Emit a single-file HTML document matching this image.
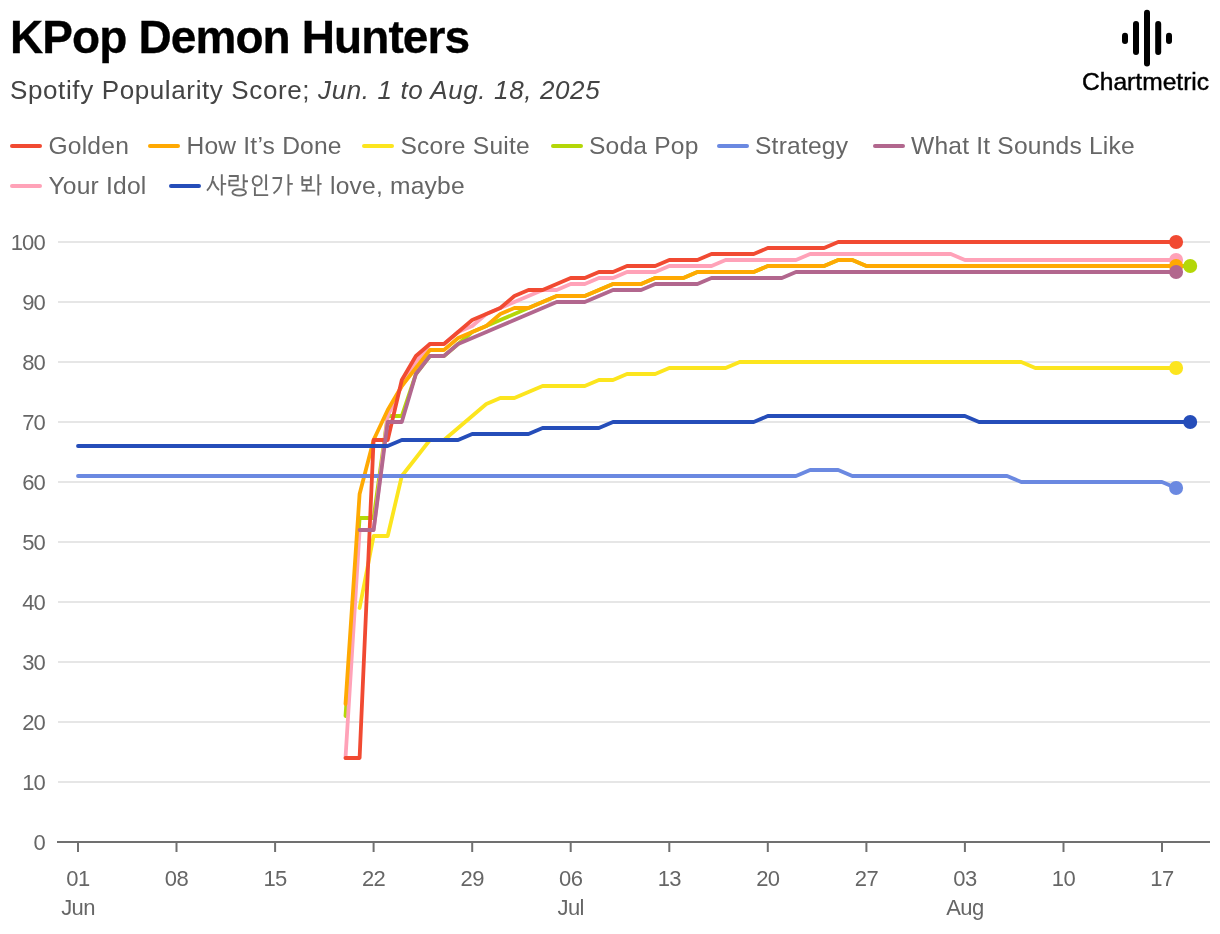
<!DOCTYPE html>
<html><head><meta charset="utf-8"><title>KPop Demon Hunters</title>
<style>
html,body{margin:0;padding:0;background:#fff;}
body{width:1220px;height:934px;position:relative;overflow:hidden;font-family:"Liberation Sans",sans-serif;}
.wrap{position:absolute;left:0;top:0;width:1220px;height:934px;will-change:transform;}
.title{position:absolute;left:10px;top:13.8px;font-size:46px;line-height:46px;font-weight:700;color:#000;letter-spacing:-0.9px;-webkit-text-stroke:0.3px #000;white-space:nowrap;}
.sub{position:absolute;left:10px;top:77.0px;font-size:26px;line-height:26px;color:#444;letter-spacing:0.62px;white-space:nowrap;}
.sub i{font-style:italic;}
.sw{position:absolute;width:32px;height:4px;border-radius:2px;}
.lt{position:absolute;font-size:24.6px;line-height:24.6px;color:#666;letter-spacing:0.2px;white-space:nowrap;}
.chart{position:absolute;left:0;top:0;}
.yl{font-family:"Liberation Sans",sans-serif;font-size:22px;fill:#666;text-anchor:end;letter-spacing:-0.8px;}
.xl{font-family:"Liberation Sans",sans-serif;font-size:22px;fill:#666;text-anchor:middle;letter-spacing:-0.6px;}
.ko{position:absolute;left:200px;top:170px;}
.logo{position:absolute;left:1120px;top:8px;}
.logot{position:absolute;left:1082px;top:70.0px;font-size:24.6px;line-height:24.6px;color:#000;-webkit-text-stroke:0.45px #000;white-space:nowrap;}
</style></head>
<body>
<div class="wrap">
<svg class="chart" width="1220" height="934" viewBox="0 0 1220 934">
<line x1="58" y1="782" x2="1210" y2="782" stroke="#e6e6e6" stroke-width="2"/>
<line x1="58" y1="722" x2="1210" y2="722" stroke="#e6e6e6" stroke-width="2"/>
<line x1="58" y1="662" x2="1210" y2="662" stroke="#e6e6e6" stroke-width="2"/>
<line x1="58" y1="602" x2="1210" y2="602" stroke="#e6e6e6" stroke-width="2"/>
<line x1="58" y1="542" x2="1210" y2="542" stroke="#e6e6e6" stroke-width="2"/>
<line x1="58" y1="482" x2="1210" y2="482" stroke="#e6e6e6" stroke-width="2"/>
<line x1="58" y1="422" x2="1210" y2="422" stroke="#e6e6e6" stroke-width="2"/>
<line x1="58" y1="362" x2="1210" y2="362" stroke="#e6e6e6" stroke-width="2"/>
<line x1="58" y1="302" x2="1210" y2="302" stroke="#e6e6e6" stroke-width="2"/>
<line x1="58" y1="242" x2="1210" y2="242" stroke="#e6e6e6" stroke-width="2"/>
<text x="45" y="849.6" class="yl">0</text>
<text x="45" y="789.6" class="yl">10</text>
<text x="45" y="729.6" class="yl">20</text>
<text x="45" y="669.6" class="yl">30</text>
<text x="45" y="609.6" class="yl">40</text>
<text x="45" y="549.6" class="yl">50</text>
<text x="45" y="489.6" class="yl">60</text>
<text x="45" y="429.6" class="yl">70</text>
<text x="45" y="369.6" class="yl">80</text>
<text x="45" y="309.6" class="yl">90</text>
<text x="45" y="249.6" class="yl">100</text>
<line x1="57" y1="842" x2="1210" y2="842" stroke="#707070" stroke-width="2"/>
<line x1="78.0" y1="842" x2="78.0" y2="852" stroke="#707070" stroke-width="2"/>
<text x="78.0" y="885.5" class="xl">01</text>
<line x1="176.5" y1="842" x2="176.5" y2="852" stroke="#707070" stroke-width="2"/>
<text x="176.5" y="885.5" class="xl">08</text>
<line x1="275.1" y1="842" x2="275.1" y2="852" stroke="#707070" stroke-width="2"/>
<text x="275.1" y="885.5" class="xl">15</text>
<line x1="373.6" y1="842" x2="373.6" y2="852" stroke="#707070" stroke-width="2"/>
<text x="373.6" y="885.5" class="xl">22</text>
<line x1="472.2" y1="842" x2="472.2" y2="852" stroke="#707070" stroke-width="2"/>
<text x="472.2" y="885.5" class="xl">29</text>
<line x1="570.7" y1="842" x2="570.7" y2="852" stroke="#707070" stroke-width="2"/>
<text x="570.7" y="885.5" class="xl">06</text>
<line x1="669.3" y1="842" x2="669.3" y2="852" stroke="#707070" stroke-width="2"/>
<text x="669.3" y="885.5" class="xl">13</text>
<line x1="767.8" y1="842" x2="767.8" y2="852" stroke="#707070" stroke-width="2"/>
<text x="767.8" y="885.5" class="xl">20</text>
<line x1="866.4" y1="842" x2="866.4" y2="852" stroke="#707070" stroke-width="2"/>
<text x="866.4" y="885.5" class="xl">27</text>
<line x1="964.9" y1="842" x2="964.9" y2="852" stroke="#707070" stroke-width="2"/>
<text x="964.9" y="885.5" class="xl">03</text>
<line x1="1063.5" y1="842" x2="1063.5" y2="852" stroke="#707070" stroke-width="2"/>
<text x="1063.5" y="885.5" class="xl">10</text>
<line x1="1162.0" y1="842" x2="1162.0" y2="852" stroke="#707070" stroke-width="2"/>
<text x="1162.0" y="885.5" class="xl">17</text>
<text x="78.0" y="915" class="xl">Jun</text>
<text x="570.7" y="915" class="xl">Jul</text>
<text x="964.9" y="915" class="xl">Aug</text>
<path d="M359.6,608.0 L373.6,536.0 L387.7,536.0 L401.8,476.0 L415.9,458.0 L429.9,440.0 L444.0,440.0 L458.1,428.0 L472.2,416.0 L486.3,404.0 L500.3,398.0 L514.4,398.0 L528.5,392.0 L542.6,386.0 L584.8,386.0 L598.9,380.0 L613.0,380.0 L627.0,374.0 L655.2,374.0 L669.3,368.0 L725.6,368.0 L739.7,362.0 L1021.2,362.0 L1035.3,368.0 L1176.1,368.0" fill="none" stroke="#fce51e" stroke-width="3.8" stroke-linejoin="round" stroke-linecap="round"/>
<path d="M345.5,716.0 L359.6,518.0 L373.6,518.0 L387.7,416.0 L401.8,416.0 L415.9,374.0 L429.9,356.0 L444.0,356.0 L458.1,344.0 L472.2,332.0 L486.3,326.0 L500.3,320.0 L514.4,314.0 L528.5,308.0 L542.6,302.0 L556.7,296.0 L584.8,296.0 L598.9,290.0 L613.0,284.0 L641.1,284.0 L655.2,278.0 L683.4,278.0 L697.4,272.0 L753.7,272.0 L767.8,266.0 L824.1,266.0 L838.2,260.0 L852.3,260.0 L866.4,266.0 L1190.2,266.0" fill="none" stroke="#b4d708" stroke-width="3.8" stroke-linejoin="round" stroke-linecap="round"/>
<path d="M345.5,758.0 L359.6,530.0 L373.6,530.0 L387.7,416.0 L401.8,386.0 L415.9,362.0 L429.9,344.0 L444.0,344.0 L458.1,332.0 L472.2,326.0 L486.3,314.0 L500.3,308.0 L514.4,302.0 L528.5,296.0 L542.6,290.0 L556.7,290.0 L570.7,284.0 L584.8,284.0 L598.9,278.0 L613.0,278.0 L627.0,272.0 L655.2,272.0 L669.3,266.0 L711.5,266.0 L725.6,260.0 L796.0,260.0 L810.1,254.0 L950.8,254.0 L964.9,260.0 L1176.1,260.0" fill="none" stroke="#ffa2b8" stroke-width="3.8" stroke-linejoin="round" stroke-linecap="round"/>
<path d="M345.5,704.0 L359.6,494.0 L373.6,440.0 L387.7,410.0 L401.8,386.0 L415.9,368.0 L429.9,350.0 L444.0,350.0 L458.1,338.0 L472.2,332.0 L486.3,326.0 L500.3,314.0 L514.4,308.0 L528.5,308.0 L542.6,302.0 L556.7,296.0 L584.8,296.0 L598.9,290.0 L613.0,284.0 L641.1,284.0 L655.2,278.0 L683.4,278.0 L697.4,272.0 L753.7,272.0 L767.8,266.0 L824.1,266.0 L838.2,260.0 L852.3,260.0 L866.4,266.0 L1176.1,266.0" fill="none" stroke="#ffa902" stroke-width="3.8" stroke-linejoin="round" stroke-linecap="round"/>
<path d="M78.0,476.0 L796.0,476.0 L810.1,470.0 L838.2,470.0 L852.3,476.0 L1007.1,476.0 L1021.2,482.0 L1162.0,482.0 L1176.1,488.0" fill="none" stroke="#6b89e1" stroke-width="3.8" stroke-linejoin="round" stroke-linecap="round"/>
<path d="M345.5,758.0 L359.6,758.0 L373.6,440.0 L387.7,440.0 L401.8,380.0 L415.9,356.0 L429.9,344.0 L444.0,344.0 L458.1,332.0 L472.2,320.0 L486.3,314.0 L500.3,308.0 L514.4,296.0 L528.5,290.0 L542.6,290.0 L556.7,284.0 L570.7,278.0 L584.8,278.0 L598.9,272.0 L613.0,272.0 L627.0,266.0 L655.2,266.0 L669.3,260.0 L697.4,260.0 L711.5,254.0 L753.7,254.0 L767.8,248.0 L824.1,248.0 L838.2,242.0 L1176.1,242.0" fill="none" stroke="#f14a32" stroke-width="3.8" stroke-linejoin="round" stroke-linecap="round"/>
<path d="M359.6,530.0 L373.6,530.0 L387.7,422.0 L401.8,422.0 L415.9,374.0 L429.9,356.0 L444.0,356.0 L458.1,344.0 L472.2,338.0 L486.3,332.0 L500.3,326.0 L514.4,320.0 L528.5,314.0 L542.6,308.0 L556.7,302.0 L584.8,302.0 L598.9,296.0 L613.0,290.0 L641.1,290.0 L655.2,284.0 L697.4,284.0 L711.5,278.0 L781.9,278.0 L796.0,272.0 L1176.1,272.0" fill="none" stroke="#b2678e" stroke-width="3.8" stroke-linejoin="round" stroke-linecap="round"/>
<path d="M78.0,446.0 L387.7,446.0 L401.8,440.0 L458.1,440.0 L472.2,434.0 L528.5,434.0 L542.6,428.0 L598.9,428.0 L613.0,422.0 L753.7,422.0 L767.8,416.0 L964.9,416.0 L979.0,422.0 L1190.2,422.0" fill="none" stroke="#254db9" stroke-width="3.8" stroke-linejoin="round" stroke-linecap="round"/>
<circle cx="1176.1" cy="368.0" r="7" fill="#fce51e"/>
<circle cx="1190.2" cy="266.0" r="7" fill="#b4d708"/>
<circle cx="1176.1" cy="260.0" r="7" fill="#ffa2b8"/>
<circle cx="1176.1" cy="266.0" r="7" fill="#ffa902"/>
<circle cx="1176.1" cy="488.0" r="7" fill="#6b89e1"/>
<circle cx="1176.1" cy="242.0" r="7" fill="#f14a32"/>
<circle cx="1176.1" cy="272.0" r="7" fill="#b2678e"/>
<circle cx="1190.2" cy="422.0" r="7" fill="#254db9"/>
</svg>
<div class="title">KPop Demon Hunters</div>
<div class="sub">Spotify Popularity Score; <i>Jun. 1 to Aug. 18, 2025</i></div>
<div class="sw" style="left:10px;top:143.9px;background:#f14a32"></div>
<div class="lt" style="left:48.5px;top:134.1px">Golden</div>
<div class="sw" style="left:148px;top:143.9px;background:#ffa902"></div>
<div class="lt" style="left:186.5px;top:134.1px">How It’s Done</div>
<div class="sw" style="left:362px;top:143.9px;background:#fce51e"></div>
<div class="lt" style="left:400.5px;top:134.1px">Score Suite</div>
<div class="sw" style="left:550.5px;top:143.9px;background:#b4d708"></div>
<div class="lt" style="left:589.0px;top:134.1px">Soda Pop</div>
<div class="sw" style="left:716.5px;top:143.9px;background:#6b89e1"></div>
<div class="lt" style="left:755.0px;top:134.1px">Strategy</div>
<div class="sw" style="left:872.5px;top:143.9px;background:#b2678e"></div>
<div class="lt" style="left:911.0px;top:134.1px">What It Sounds Like</div>
<div class="sw" style="left:10px;top:183.9px;background:#ffa2b8"></div>
<div class="lt" style="left:48.5px;top:174.1px">Your Idol</div>
<div class="sw" style="left:168.5px;top:183.9px;background:#254db9"></div>
<svg class="ko" width="130" height="34" viewBox="200 170 130 34">
<g fill="none" stroke="#6a6a6a" stroke-width="1.9" stroke-linecap="butt" stroke-linejoin="miter">
<path d="M213.2,176 C212.8,182 210.6,187 207,190.6 M213.2,181 C214.5,185 216.5,188 219,190"/>
<path d="M221.8,174.3 V195.6 M221.8,183.9 H226.2"/>
<path d="M228.9,176 H237.8 V180.6 H229.3 V185.4 H238.6"/>
<path d="M243.7,174.3 V188.6 M243.7,181.2 H248"/>
<ellipse cx="239.2" cy="192.4" rx="6.8" ry="3.2"/>
<ellipse cx="257.2" cy="180.8" rx="4.5" ry="4.7"/>
<path d="M266.1,174.3 V190.2"/>
<path d="M254.9,187.3 V195.1 H268.2"/>
<path d="M272.5,178 H281.2 C281,185 278,190.5 273.5,193.5"/>
<path d="M288.4,174.3 V195.6 M288.4,183.9 H292.8"/>
<path d="M302.3,175.9 V184.9 H310.8 V175.9 M302.3,180.2 H310.8"/>
<path d="M306.6,184.9 V190.2 M301.6,190.6 H315.3"/>
<path d="M318.3,174.3 V195.6 M318.3,183.9 H321.6"/>
</g></svg>
<div class="lt" style="left:330px;top:174.1px">love, maybe</div>
<svg class="logo" width="56" height="62" viewBox="1120 8 56 62">
<g stroke="#000" stroke-width="6" stroke-linecap="round">
<line x1="1125" y1="35.8" x2="1125" y2="40.9"/>
<line x1="1136" y1="24" x2="1136" y2="52.1"/>
<line x1="1147" y1="12.8" x2="1147" y2="63.6"/>
<line x1="1158.2" y1="24" x2="1158.2" y2="52.1"/>
<line x1="1169" y1="35.8" x2="1169" y2="40.9"/>
</g></svg>
<div class="logot">Chartmetric</div>
</div>
</body></html>
